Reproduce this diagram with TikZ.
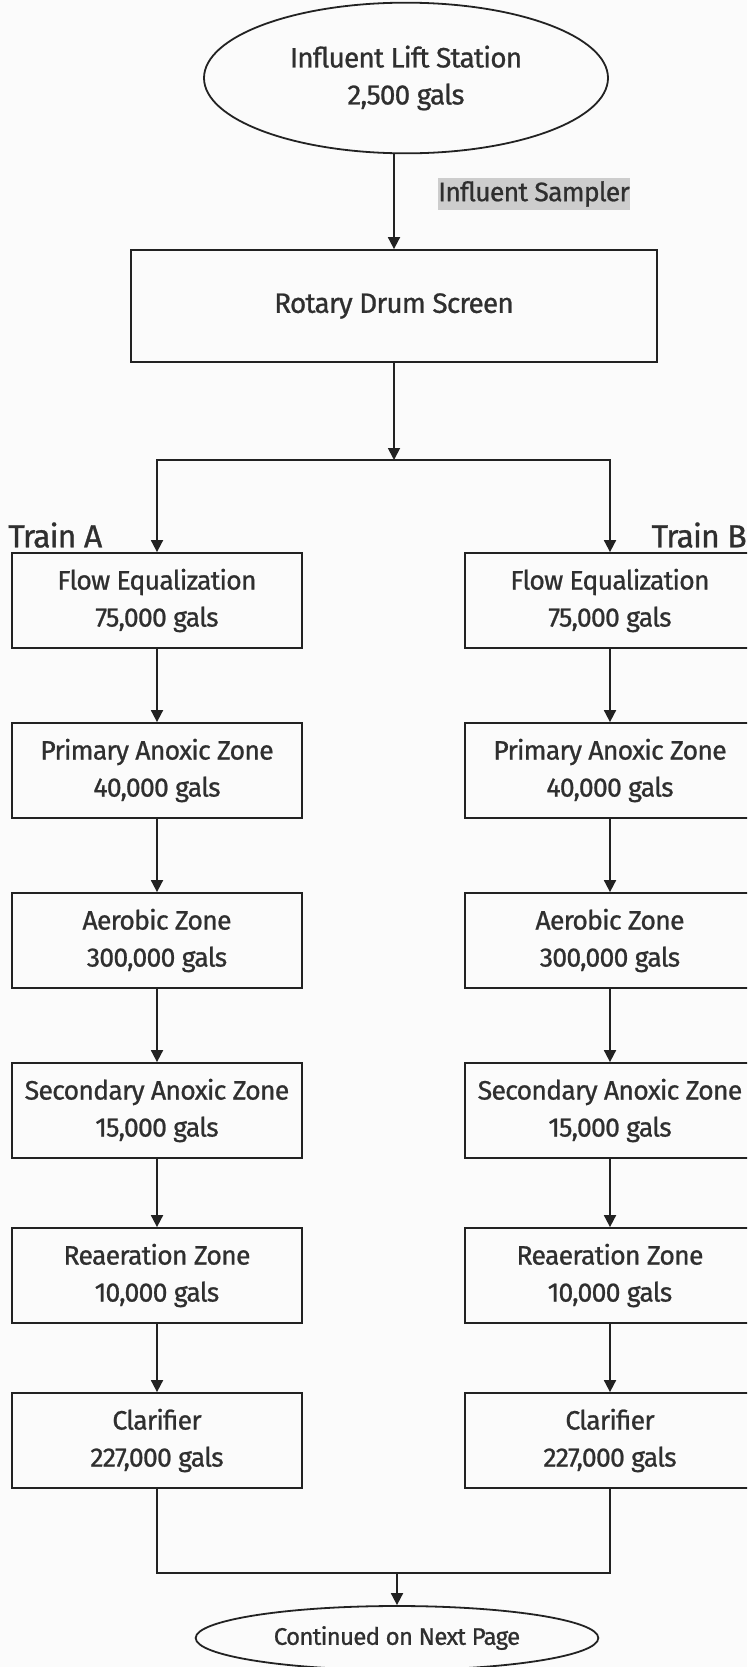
\documentclass[tikz,border=0pt]{standalone}
\usepackage{fontspec}
\setmainfont{Fira Sans}[LetterSpace=-3, UprightFeatures={FakeBold=0.8}]
\usetikzlibrary{shapes.geometric,arrows.meta}
\definecolor{txt}{HTML}{2F2F2F}
\definecolor{samp}{HTML}{CDCDCD}
\definecolor{bg}{HTML}{FBFBFB}
\definecolor{ln}{HTML}{222222}
\tikzset{
  every node/.style={text=txt},
  box/.style={draw=ln, line width=1.35pt, minimum width=217.5pt, minimum height=71.25pt, inner sep=0pt, align=center, font=\fontsize{20}{27.75}\selectfont},
  oval/.style={ellipse, draw=ln, line width=1.35pt, inner sep=0pt, align=center, font=\fontsize{21}{27.75}\selectfont},
  flow/.style={draw=ln, line width=1.35pt, -{Triangle[width=9pt,length=9pt]}},
  plain/.style={draw=ln, line width=1.35pt},
  trainlbl/.style={font=\fontsize{24}{28}\selectfont, inner sep=0pt},
  samplbl/.style={fill=samp, minimum width=144pt, minimum height=24pt, inner sep=0pt, font=\fontsize{20}{22}\selectfont}
}
\begin{document}
\begin{tikzpicture}[x=0.75pt,y=-0.75pt]
\path[use as bounding box, fill=bg] (0,0) rectangle (747,1667);
\clip (0,0) rectangle (747,1667);
% top
\node[oval, minimum width=303pt, minimum height=113pt] (lift) at (406,78) {Influent Lift Station\\2,500 gals};
\node[samplbl] (samp) at (534,194) {Influent Sampler};
\node[box, minimum width=394.5pt, minimum height=84pt, font=\fontsize{21}{24}\selectfont] (rds) at (394,306) {Rotary Drum Screen};
\draw[flow] (rds.north |- lift.south) -- (rds.north);
\coordinate (split) at (394,460);
\draw[flow] (rds.south) -- (split);
% train labels
\node[trainlbl, anchor=south west] (ta) at (8,548) {Train A};
\node[trainlbl, anchor=south east] (tb) at (747,548) {Train B};
% train A
\node[box] (a1) at (157,600.5) {Flow Equalization\\75,000 gals};
\node[box] (a2) at (157,770.5) {Primary Anoxic Zone\\40,000 gals};
\node[box] (a3) at (157,940.5) {Aerobic Zone\\300,000 gals};
\node[box] (a4) at (157,1110.5) {Secondary Anoxic Zone\\15,000 gals};
\node[box] (a5) at (157,1275.5) {Reaeration Zone\\10,000 gals};
\node[box] (a6) at (157,1440.5) {Clarifier\\227,000 gals};
% train B
\node[box] (b1) at (610,600.5) {Flow Equalization\\75,000 gals};
\node[box] (b2) at (610,770.5) {Primary Anoxic Zone\\40,000 gals};
\node[box] (b3) at (610,940.5) {Aerobic Zone\\300,000 gals};
\node[box] (b4) at (610,1110.5) {Secondary Anoxic Zone\\15,000 gals};
\node[box] (b5) at (610,1275.5) {Reaeration Zone\\10,000 gals};
\node[box] (b6) at (610,1440.5) {Clarifier\\227,000 gals};
% split
\draw[flow] (split) -| (a1.north);
\draw[flow] (split) -| (b1.north);
\foreach \i/\j in {1/2,2/3,3/4,4/5,5/6}{
  \draw[flow] (a\i.south) -- (a\j.north);
  \draw[flow] (b\i.south) -- (b\j.north);
}
% merge
\node[oval, minimum width=302pt, minimum height=48pt, font=\fontsize{18}{20}\selectfont] (cont) at (397,1638) {Continued on Next Page};
\coordinate (merge) at (397,1573);
\draw[plain] (a6.south) |- (merge);
\draw[plain] (b6.south) |- (merge);
\draw[flow] (merge) -- (cont.north);
\end{tikzpicture}
\end{document}
